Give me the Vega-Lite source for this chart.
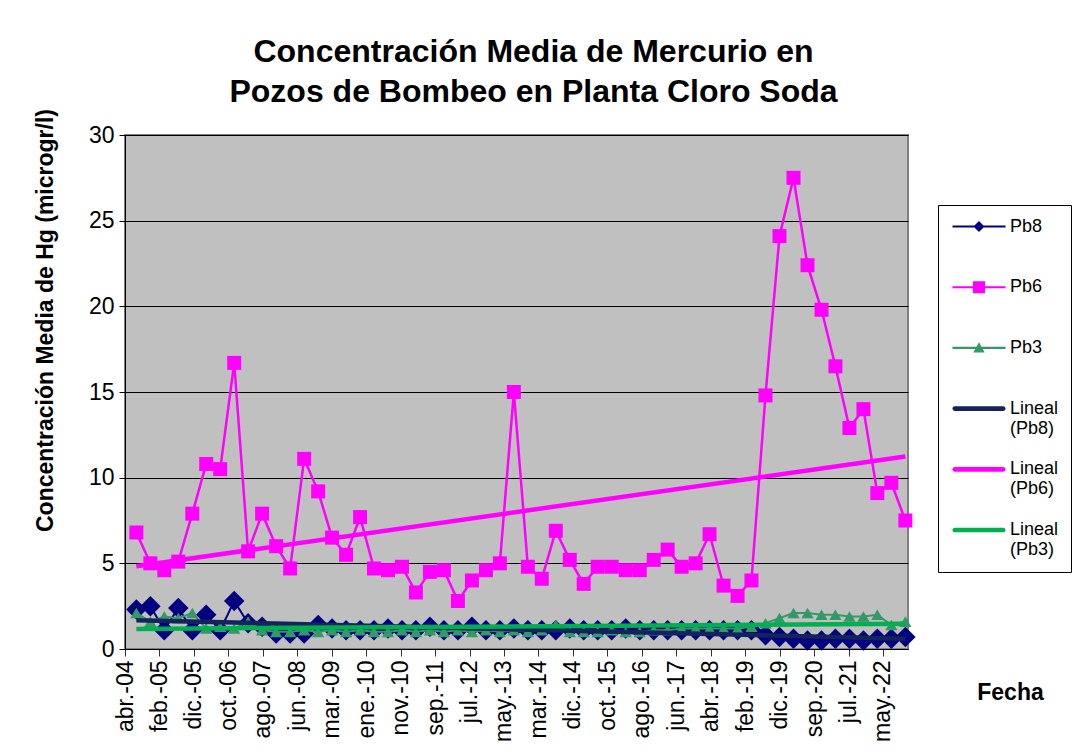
{
"$schema": "https://vega.github.io/schema/vega-lite/v6.json",
"width": 783, "height": 514,
"autosize": {"type": "none"},
"padding": {"left": 125, "top": 135, "right": 172, "bottom": 102},
"background": "white",
"title": {"text": ["Concentración Media de Mercurio en", "Pozos de Bombeo en Planta Cloro Soda"], "font": "Liberation Sans", "fontSize": 32, "fontWeight": "bold", "color": "black", "anchor": "middle", "dx": 17, "offset": 0, "lineHeight": 40},
"config": {"view": {"fill": "#C0C0C0", "stroke": "#808080", "strokeWidth": 2}, "font": "Liberation Sans"},
"data": {"format": {"parse": {"d": "date"}}, "values": [
{"d":"2004-08-01","s":"Pb8","v":2.3},{"d":"2004-12-01","s":"Pb8","v":2.5},{"d":"2005-04-01","s":"Pb8","v":1.1},{"d":"2005-08-01","s":"Pb8","v":2.4},{"d":"2005-12-01","s":"Pb8","v":1.1},{"d":"2006-04-01","s":"Pb8","v":2.0},{"d":"2006-08-01","s":"Pb8","v":1.1},{"d":"2006-12-01","s":"Pb8","v":2.8},{"d":"2007-04-01","s":"Pb8","v":1.5},{"d":"2007-08-01","s":"Pb8","v":1.3},
{"d":"2007-12-01","s":"Pb8","v":0.9},{"d":"2008-04-01","s":"Pb8","v":0.9},{"d":"2008-08-01","s":"Pb8","v":0.9},{"d":"2008-12-01","s":"Pb8","v":1.4},{"d":"2009-04-01","s":"Pb8","v":1.2},{"d":"2009-08-01","s":"Pb8","v":1.1},{"d":"2009-12-01","s":"Pb8","v":1.1},{"d":"2010-04-01","s":"Pb8","v":1.1},{"d":"2010-08-01","s":"Pb8","v":1.2},{"d":"2010-12-01","s":"Pb8","v":1.1},
{"d":"2011-04-01","s":"Pb8","v":1.1},{"d":"2011-08-01","s":"Pb8","v":1.3},{"d":"2011-12-01","s":"Pb8","v":1.1},{"d":"2012-04-01","s":"Pb8","v":1.1},{"d":"2012-08-01","s":"Pb8","v":1.3},{"d":"2012-12-01","s":"Pb8","v":1.1},{"d":"2013-04-01","s":"Pb8","v":1.1},{"d":"2013-08-01","s":"Pb8","v":1.2},{"d":"2013-12-01","s":"Pb8","v":1.1},{"d":"2014-04-01","s":"Pb8","v":1.1},
{"d":"2014-08-01","s":"Pb8","v":1.1},{"d":"2014-12-01","s":"Pb8","v":1.2},{"d":"2015-04-01","s":"Pb8","v":1.1},{"d":"2015-08-01","s":"Pb8","v":1.1},{"d":"2015-12-01","s":"Pb8","v":1.1},{"d":"2016-04-01","s":"Pb8","v":1.2},{"d":"2016-08-01","s":"Pb8","v":1.1},{"d":"2016-12-01","s":"Pb8","v":1.1},{"d":"2017-04-01","s":"Pb8","v":1.1},{"d":"2017-08-01","s":"Pb8","v":1.1},
{"d":"2017-12-01","s":"Pb8","v":1.1},{"d":"2018-04-01","s":"Pb8","v":1.1},{"d":"2018-08-01","s":"Pb8","v":1.1},{"d":"2018-12-01","s":"Pb8","v":1.1},{"d":"2019-04-01","s":"Pb8","v":1.1},{"d":"2019-08-01","s":"Pb8","v":0.8},{"d":"2019-12-01","s":"Pb8","v":0.7},{"d":"2020-04-01","s":"Pb8","v":0.6},{"d":"2020-08-01","s":"Pb8","v":0.5},{"d":"2020-12-01","s":"Pb8","v":0.5},
{"d":"2021-04-01","s":"Pb8","v":0.6},{"d":"2021-08-01","s":"Pb8","v":0.6},{"d":"2021-12-01","s":"Pb8","v":0.5},{"d":"2022-04-01","s":"Pb8","v":0.6},{"d":"2022-08-01","s":"Pb8","v":0.6},{"d":"2022-12-01","s":"Pb8","v":0.7},
{"d":"2004-08-01","s":"Pb6","v":6.8},{"d":"2004-12-01","s":"Pb6","v":5.0},{"d":"2005-04-01","s":"Pb6","v":4.6},{"d":"2005-08-01","s":"Pb6","v":5.1},{"d":"2005-12-01","s":"Pb6","v":7.9},{"d":"2006-04-01","s":"Pb6","v":10.8},{"d":"2006-08-01","s":"Pb6","v":10.5},{"d":"2006-12-01","s":"Pb6","v":16.7},{"d":"2007-04-01","s":"Pb6","v":5.7},{"d":"2007-08-01","s":"Pb6","v":7.9},
{"d":"2007-12-01","s":"Pb6","v":6.0},{"d":"2008-04-01","s":"Pb6","v":4.7},{"d":"2008-08-01","s":"Pb6","v":11.1},{"d":"2008-12-01","s":"Pb6","v":9.2},{"d":"2009-04-01","s":"Pb6","v":6.5},{"d":"2009-08-01","s":"Pb6","v":5.5},{"d":"2009-12-01","s":"Pb6","v":7.7},{"d":"2010-04-01","s":"Pb6","v":4.7},{"d":"2010-08-01","s":"Pb6","v":4.6},{"d":"2010-12-01","s":"Pb6","v":4.8},
{"d":"2011-04-01","s":"Pb6","v":3.3},{"d":"2011-08-01","s":"Pb6","v":4.5},{"d":"2011-12-01","s":"Pb6","v":4.6},{"d":"2012-04-01","s":"Pb6","v":2.8},{"d":"2012-08-01","s":"Pb6","v":4.0},{"d":"2012-12-01","s":"Pb6","v":4.6},{"d":"2013-04-01","s":"Pb6","v":5.0},{"d":"2013-08-01","s":"Pb6","v":15.0},{"d":"2013-12-01","s":"Pb6","v":4.8},{"d":"2014-04-01","s":"Pb6","v":4.1},
{"d":"2014-08-01","s":"Pb6","v":6.9},{"d":"2014-12-01","s":"Pb6","v":5.2},{"d":"2015-04-01","s":"Pb6","v":3.8},{"d":"2015-08-01","s":"Pb6","v":4.8},{"d":"2015-12-01","s":"Pb6","v":4.8},{"d":"2016-04-01","s":"Pb6","v":4.6},{"d":"2016-08-01","s":"Pb6","v":4.6},{"d":"2016-12-01","s":"Pb6","v":5.2},{"d":"2017-04-01","s":"Pb6","v":5.8},{"d":"2017-08-01","s":"Pb6","v":4.8},
{"d":"2017-12-01","s":"Pb6","v":5.0},{"d":"2018-04-01","s":"Pb6","v":6.7},{"d":"2018-08-01","s":"Pb6","v":3.7},{"d":"2018-12-01","s":"Pb6","v":3.1},{"d":"2019-04-01","s":"Pb6","v":4.0},{"d":"2019-08-01","s":"Pb6","v":14.8},{"d":"2019-12-01","s":"Pb6","v":24.1},{"d":"2020-04-01","s":"Pb6","v":27.5},{"d":"2020-08-01","s":"Pb6","v":22.4},{"d":"2020-12-01","s":"Pb6","v":19.8},
{"d":"2021-04-01","s":"Pb6","v":16.5},{"d":"2021-08-01","s":"Pb6","v":12.9},{"d":"2021-12-01","s":"Pb6","v":14.0},{"d":"2022-04-01","s":"Pb6","v":9.1},{"d":"2022-08-01","s":"Pb6","v":9.7},{"d":"2022-12-01","s":"Pb6","v":7.5},
{"d":"2004-08-01","s":"Pb3","v":2.1},{"d":"2004-12-01","s":"Pb3","v":1.6},{"d":"2005-04-01","s":"Pb3","v":1.9},{"d":"2005-08-01","s":"Pb3","v":1.8},{"d":"2005-12-01","s":"Pb3","v":2.1},{"d":"2006-04-01","s":"Pb3","v":1.2},{"d":"2006-08-01","s":"Pb3","v":1.3},{"d":"2006-12-01","s":"Pb3","v":1.2},{"d":"2007-04-01","s":"Pb3","v":1.6},{"d":"2007-08-01","s":"Pb3","v":1.1},
{"d":"2007-12-01","s":"Pb3","v":1.0},{"d":"2008-04-01","s":"Pb3","v":1.0},{"d":"2008-08-01","s":"Pb3","v":1.1},{"d":"2008-12-01","s":"Pb3","v":1.0},{"d":"2009-04-01","s":"Pb3","v":1.1},{"d":"2009-08-01","s":"Pb3","v":1.0},{"d":"2009-12-01","s":"Pb3","v":1.1},{"d":"2010-04-01","s":"Pb3","v":1.0},{"d":"2010-08-01","s":"Pb3","v":1.0},{"d":"2010-12-01","s":"Pb3","v":1.1},
{"d":"2011-04-01","s":"Pb3","v":1.0},{"d":"2011-08-01","s":"Pb3","v":1.1},{"d":"2011-12-01","s":"Pb3","v":1.0},{"d":"2012-04-01","s":"Pb3","v":1.1},{"d":"2012-08-01","s":"Pb3","v":1.0},{"d":"2012-12-01","s":"Pb3","v":1.1},{"d":"2013-04-01","s":"Pb3","v":1.0},{"d":"2013-08-01","s":"Pb3","v":1.1},{"d":"2013-12-01","s":"Pb3","v":1.0},{"d":"2014-04-01","s":"Pb3","v":1.1},
{"d":"2014-08-01","s":"Pb3","v":1.4},{"d":"2014-12-01","s":"Pb3","v":1.0},{"d":"2015-04-01","s":"Pb3","v":1.0},{"d":"2015-08-01","s":"Pb3","v":1.0},{"d":"2015-12-01","s":"Pb3","v":1.1},{"d":"2016-04-01","s":"Pb3","v":1.0},{"d":"2016-08-01","s":"Pb3","v":1.0},{"d":"2016-12-01","s":"Pb3","v":1.1},{"d":"2017-04-01","s":"Pb3","v":1.1},{"d":"2017-08-01","s":"Pb3","v":1.2},
{"d":"2017-12-01","s":"Pb3","v":1.2},{"d":"2018-04-01","s":"Pb3","v":1.2},{"d":"2018-08-01","s":"Pb3","v":1.2},{"d":"2018-12-01","s":"Pb3","v":1.2},{"d":"2019-04-01","s":"Pb3","v":1.3},{"d":"2019-08-01","s":"Pb3","v":1.5},{"d":"2019-12-01","s":"Pb3","v":1.8},{"d":"2020-04-01","s":"Pb3","v":2.1},{"d":"2020-08-01","s":"Pb3","v":2.1},{"d":"2020-12-01","s":"Pb3","v":2.0},
{"d":"2021-04-01","s":"Pb3","v":2.0},{"d":"2021-08-01","s":"Pb3","v":1.9},{"d":"2021-12-01","s":"Pb3","v":1.9},{"d":"2022-04-01","s":"Pb3","v":2.0},{"d":"2022-08-01","s":"Pb3","v":1.4},{"d":"2022-12-01","s":"Pb3","v":1.6}
]},
"encoding": {
  "x": {"field": "d", "type": "temporal",
    "scale": {"type": "utc", "domain": [{"year": 2004, "month": 4, "date": 24, "utc": true}, {"year": 2022, "month": 12, "date": 24, "utc": true}]},
    "axis": {"values": [
      {"year":2004,"month":4,"date":24,"utc":true},{"year":2005,"month":2,"date":18,"utc":true},{"year":2005,"month":12,"date":15,"utc":true},{"year":2006,"month":10,"date":11,"utc":true},{"year":2007,"month":8,"date":7,"utc":true},{"year":2008,"month":6,"date":2,"utc":true},{"year":2009,"month":3,"date":29,"utc":true},{"year":2010,"month":1,"date":23,"utc":true},{"year":2010,"month":11,"date":19,"utc":true},{"year":2011,"month":9,"date":15,"utc":true},{"year":2012,"month":7,"date":11,"utc":true},{"year":2013,"month":5,"date":7,"utc":true},{"year":2014,"month":3,"date":3,"utc":true},{"year":2014,"month":12,"date":28,"utc":true},{"year":2015,"month":10,"date":24,"utc":true},{"year":2016,"month":8,"date":19,"utc":true},{"year":2017,"month":6,"date":15,"utc":true},{"year":2018,"month":4,"date":11,"utc":true},{"year":2019,"month":2,"date":5,"utc":true},{"year":2019,"month":12,"date":2,"utc":true},{"year":2020,"month":9,"date":27,"utc":true},{"year":2021,"month":7,"date":24,"utc":true},{"year":2022,"month":5,"date":20,"utc":true}],
      "labelExpr": "['ene.','feb.','mar.','abr.','may.','jun.','jul.','ago.','sep.','oct.','nov.','dic.'][utcmonth(datum.value)] + '-' + utcFormat(datum.value, '%y')",
      "labelAngle": -90, "labelFontSize": 23, "labelFont": "Liberation Sans", "labelColor": "black", "labelPadding": 4, "labelOverlap": false, "labelFlush": false,
      "grid": false, "domainColor": "black", "tickColor": "#333333", "tickSize": 7,
      "title": "Fecha", "titleFont": "Liberation Sans", "titleFontSize": 23, "titleFontWeight": "bold", "titleColor": "black",
      "titleAngle": 0, "titleX": 885, "titleY": 43, "titleAlign": "center", "titleBaseline": "middle"}},
  "y": {"field": "v", "type": "quantitative",
    "scale": {"domain": [0, 30], "nice": false, "zero": true},
    "axis": {"values": [0, 5, 10, 15, 20, 25, 30], "grid": true, "gridColor": "black", "gridWidth": 1, "gridOpacity": 1,
      "domainColor": "black", "tickColor": "black", "tickSize": 6, "labelFontSize": 23, "labelFont": "Liberation Sans", "labelColor": "black", "labelPadding": 5,
      "title": "Concentración Media de Hg (microgr/l)", "titleFont": "Liberation Sans", "titleFontSize": 23, "titleFontWeight": "bold", "titleColor": "black",
      "titleAngle": 270, "titleX": -80, "titleY": 185, "titleAlign": "center", "titleBaseline": "middle"}}
},
"layer": [
  {"transform": [{"filter": "datum.s === 'Pb8'"}], "layer": [
    {"mark": {"type": "line", "strokeWidth": 2},
     "encoding": {"color": {"field": "s", "type": "nominal",
       "scale": {"domain": ["Pb8", "Pb6", "Pb3", "Lineal (Pb8)", "Lineal (Pb6)", "Lineal (Pb3)"], "range": ["#000080", "#FF00FF", "#339966", "#14235C", "#FF00FF", "#00B050"]},
       "legend": {"orient": "none", "legendX": 813, "legendY": 70, "title": null, "padding": 12.5,
         "strokeColor": "black", "fillColor": "white", "cornerRadius": 0,
         "symbolSize": 200, "symbolOffset": 19.5, "symbolStrokeWidth": 0, "labelOffset": 22, "rowPadding": 22.7,
         "labelFont": "Liberation Sans", "labelFontSize": 18, "labelColor": "black", "labelLineHeight": 21, "labelBaseline": "middle",
         "labelExpr": "indexof(datum.label, 'Lineal') == 0 ? ['Lineal', slice(datum.label, 7)] : [datum.label, ' ']",
         "encode": {
           "symbols": {"update": {
             "shape": {"signal": "datum.value === 'Pb8' ? 'M-3.75,-0.15H3.75V0.15H-3.75Z M0,-0.78L0.78,0L0,0.78L-0.78,0Z' : datum.value === 'Pb6' ? 'M-3.75,-0.15H3.75V0.15H-3.75Z M-0.85,-0.85H0.85V0.85H-0.85Z' : datum.value === 'Pb3' ? 'M-3.75,-0.15H3.75V0.15H-3.75Z M0,-0.8L0.8,0.65L-0.8,0.65Z' : 'M-3.42,-0.33H3.42A0.33,0.33 0 0 1 3.42,0.33H-3.42A0.33,0.33 0 0 1 -3.42,-0.33Z'"},
             "fill": {"scale": "color", "field": "value"},
             "stroke": {"value": "transparent"},
             "strokeWidth": {"value": 0},
             "opacity": {"value": 1}}}}}}}},
    {"mark": {"type": "point", "shape": "diamond", "filled": true, "size": 420, "opacity": 1},
     "encoding": {"color": {"field": "s", "type": "nominal"}}}
  ]},
  {"transform": [{"filter": "datum.s === 'Pb6'"}], "layer": [
    {"mark": {"type": "line", "strokeWidth": 2.5}, "encoding": {"color": {"field": "s", "type": "nominal"}}},
    {"mark": {"type": "point", "shape": "square", "filled": true, "size": 196, "opacity": 1}, "encoding": {"color": {"field": "s", "type": "nominal"}}}
  ]},
  {"transform": [{"filter": "datum.s === 'Pb3'"}], "layer": [
    {"mark": {"type": "line", "strokeWidth": 2}, "encoding": {"color": {"field": "s", "type": "nominal"}}},
    {"mark": {"type": "point", "shape": "triangle-up", "filled": true, "size": 150, "opacity": 1}, "encoding": {"color": {"field": "s", "type": "nominal"}}}
  ]},
  {"transform": [{"filter": "datum.s === 'Pb8'"}, {"regression": "v", "on": "d"}],
   "mark": {"type": "line", "strokeWidth": 4.5}, "encoding": {"color": {"datum": "Lineal (Pb8)", "type": "nominal"}}},
  {"transform": [{"filter": "datum.s === 'Pb6'"}, {"regression": "v", "on": "d"}],
   "mark": {"type": "line", "strokeWidth": 4.5}, "encoding": {"color": {"datum": "Lineal (Pb6)", "type": "nominal"}}},
  {"transform": [{"filter": "datum.s === 'Pb3'"}, {"regression": "v", "on": "d"}],
   "mark": {"type": "line", "strokeWidth": 4.5}, "encoding": {"color": {"datum": "Lineal (Pb3)", "type": "nominal"}}}
]
}
